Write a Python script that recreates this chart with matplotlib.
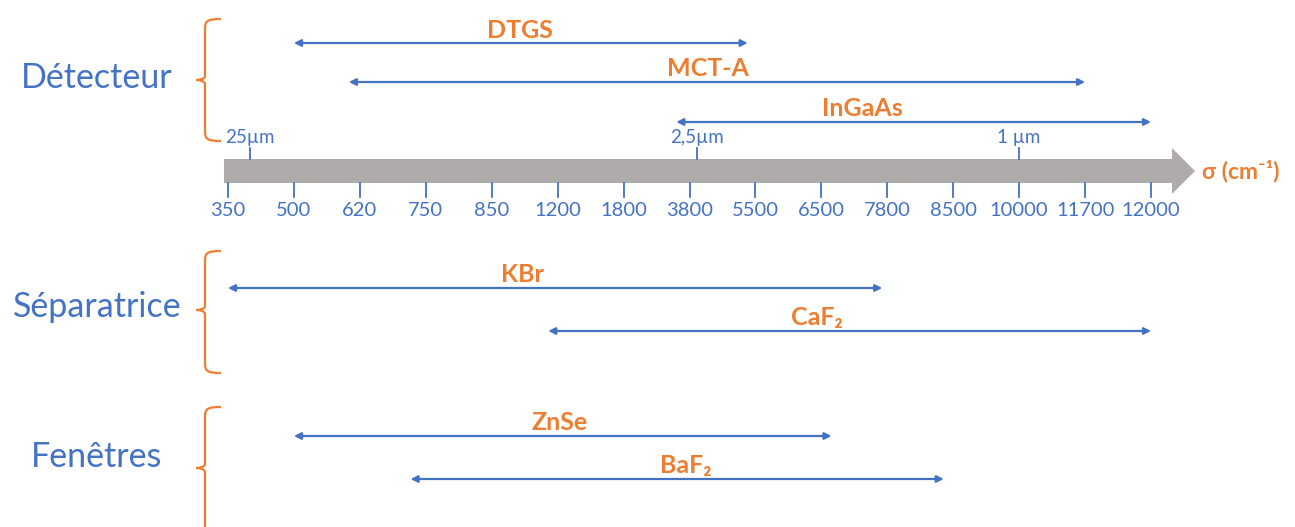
import numpy as np
import matplotlib.pyplot as plt
from matplotlib.path import Path
from matplotlib.patches import PathPatch

# --- data ---
wavenumbers = [350, 500, 620, 750, 850, 1200, 1800, 3800, 5500, 6500,
               7800, 8500, 10000, 11700, 12000]
micron_marks = [25, 2.5, 1]
micron_labels = ["25µm", "2,5µm", "1 µm"]

groups = ["Détecteur", "Séparatrice", "Fenêtres"]
group_items = [["DTGS", "MCT-A", "InGaAs"], ["KBr", "CaF₂"], ["ZnSe", "BaF₂"]]
group_starts = [[500, 600, 3400], [350, 1150], [500, 720]]
group_ends = [[5300, 11700, 12000], [7700, 12000], [6700, 8400]]

# --- style / layout ---
BLUE = "#4472C4"
ORANGE = "#ED7D31"
GREY = "#AEABAA"
FONT = ["Lato", "DejaVu Sans"]
W, H = 1295, 527
X0, DX = 228, 65.93          # pixel of first tick, pixel per tick step

row_y = [[43, 82, 122], [288, 331], [436, 479]]
label_px = [[520, 708, 862], [522, 817], [560, 686]]
group_y = [78, 307, 457]
brace_span = [(19, 80, 141), (251, 310, 373), (407, 468, 560)]
axis_y = 171


def to_idx(wn):
    return np.interp(wn, wavenumbers, np.arange(len(wavenumbers)))


def px_to_idx(px):
    return (px - X0) / DX


fig = plt.figure(figsize=(W / 100, H / 100), dpi=100)
ax = fig.add_axes([0, 0, 1, 1])
ax.set_xlim(px_to_idx(0), px_to_idx(W))
ax.set_ylim(H, 0)
ax.axis("off")

# pixel overlay for braces and group titles
ax2 = fig.add_axes([0, 0, 1, 1])
ax2.set_xlim(0, W)
ax2.set_ylim(H, 0)
ax2.axis("off")
ax2.patch.set_alpha(0)

# grey wavenumber axis
start = px_to_idx(224)
tip = px_to_idx(1195)
ax.arrow(start, axis_y, tip - start, 0, width=24, head_width=46,
         head_length=23 / DX, length_includes_head=True,
         color=GREY, ec="none", zorder=1)

for i, wn in enumerate(wavenumbers):
    x = to_idx(wn)
    ax.plot([x, x], [183, 197], color=BLUE, lw=1.3, zorder=2)
    ax.text(x, 211, str(wn), ha="center", va="center", color=BLUE,
            fontsize=14.5, family=FONT)
ax.text(px_to_idx(1202), axis_y, "σ (cm⁻¹)", ha="left", va="center",
        color=ORANGE, fontsize=16.5, fontweight="bold", family=FONT)

for um, lab in zip(micron_marks, micron_labels):
    x = to_idx(1e4 / um)
    ax.plot([x, x], [148, 159], color=BLUE, lw=1.3, zorder=2)
    ax.text(x, 137, lab, ha="center", va="center", color=BLUE,
            fontsize=13.5, family=FONT)

# range arrows
for g in range(len(groups)):
    for k, name in enumerate(group_items[g]):
        y = row_y[g][k]
        ax.annotate("", xy=(to_idx(group_ends[g][k]), y),
                    xytext=(to_idx(group_starts[g][k]), y),
                    arrowprops=dict(arrowstyle="<|-|>", color=BLUE, lw=1.6,
                                    mutation_scale=10, shrinkA=0, shrinkB=0))
        ax.text(px_to_idx(label_px[g][k]), y - 13, name, ha="center",
                va="center", color=ORANGE, fontsize=18, fontweight="bold",
                family=FONT)

# braces and group titles
for g, name in enumerate(groups):
    top, mid, bot = brace_span[g]
    xr, xv, xt = 221, 205, 196
    verts = [(xr, top), (xv + 2, top), (xv, top + 2), (xv, top + 10),
             (xv, mid - 4), (xv, mid - 4), (xv, mid - 4),
             (xv, mid), (xt, mid), (xt, mid),
             (xv, mid), (xv, mid + 4), (xv, mid + 4),
             (xv, bot - 10), (xv, bot - 2), (xv + 2, bot), (xr, bot)]
    codes = [Path.MOVETO, Path.CURVE4, Path.CURVE4, Path.CURVE4,
             Path.LINETO, Path.LINETO, Path.LINETO,
             Path.CURVE4, Path.CURVE4, Path.CURVE4,
             Path.CURVE4, Path.CURVE4, Path.CURVE4,
             Path.LINETO, Path.CURVE4, Path.CURVE4, Path.CURVE4]
    ax2.add_patch(PathPatch(Path(verts, codes), fc="none", ec=ORANGE, lw=1.6))
    ax2.text(97, group_y[g], name, ha="center", va="center", color=BLUE,
             fontsize=24.5, family=FONT)

fig.savefig("out.png", dpi=100)
